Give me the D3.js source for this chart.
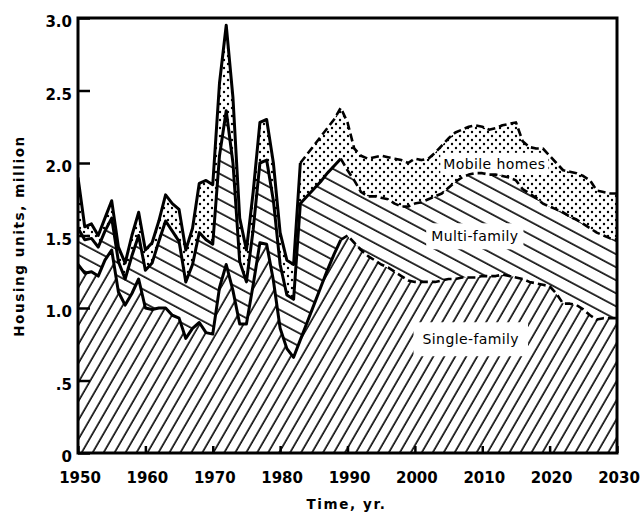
<!DOCTYPE html>
<html>
<head>
<meta charset="utf-8">
<script src="https://cdn.jsdelivr.net/npm/d3@7"></script>
<style>
    body { margin: 0; background: #fff; }
    text { font-family: "DejaVu Sans", "Liberation Sans", sans-serif; fill: #000; }
    .tick-label { font-size: 15px; font-weight: bold; }
    .axis-title { font-size: 13.5px; font-weight: bold; letter-spacing: 1.6px; }
    .area-label { font-size: 14px; letter-spacing: 0.4px; }
</style>
</head>
<body>
<svg id="chart" width="644" height="513"></svg>
<script>
// years on the x axis, one value per year
const years = d3.range(1950, 2031);

// housing units, million (each series is its own layer of the stack)
const singleFamily = [
    1.30, 1.24, 1.25, 1.22, 1.33, 1.40, 1.11, 1.02, 1.10, 1.20,
    1.00, 0.99, 1.00, 1.00, 0.95, 0.93, 0.79, 0.86, 0.90, 0.83,
    0.82, 1.14, 1.30, 1.12, 0.89, 0.89, 1.16, 1.45, 1.44, 1.19,
    0.86, 0.72, 0.66, 0.78, 0.90, 1.02, 1.14, 1.26, 1.37, 1.47,
    1.50, 1.45, 1.40, 1.36, 1.33, 1.30, 1.28, 1.25, 1.22, 1.19,
    1.18, 1.18, 1.18, 1.18, 1.19, 1.20, 1.20, 1.21, 1.21, 1.21,
    1.22, 1.22, 1.22, 1.23, 1.22, 1.21, 1.20, 1.18, 1.17, 1.16,
    1.15, 1.10, 1.03, 1.03, 1.02, 0.99, 0.95, 0.92, 0.93, 0.93,
    0.93
];
const multiFamily = [
    0.25, 0.23, 0.23, 0.20, 0.20, 0.22, 0.21, 0.18, 0.26, 0.30,
    0.26, 0.32, 0.46, 0.60, 0.58, 0.53, 0.39, 0.44, 0.62, 0.64,
    0.62, 0.91, 1.06, 0.88, 0.43, 0.29, 0.38, 0.55, 0.58, 0.55,
    0.44, 0.37, 0.40, 0.94, 0.87, 0.80, 0.73, 0.67, 0.61, 0.56,
    0.45, 0.43, 0.40, 0.41, 0.44, 0.46, 0.47, 0.47, 0.48, 0.51,
    0.54, 0.55, 0.57, 0.59, 0.60, 0.63, 0.67, 0.69, 0.71, 0.72,
    0.71, 0.70, 0.70, 0.68, 0.68, 0.67, 0.62, 0.61, 0.59, 0.56,
    0.55, 0.58, 0.63, 0.60, 0.59, 0.59, 0.60, 0.60, 0.57, 0.55,
    0.54
];
const mobileHomes = [
    0.35, 0.09, 0.10, 0.08, 0.09, 0.12, 0.10, 0.11, 0.14, 0.16,
    0.14, 0.14, 0.14, 0.18, 0.19, 0.22, 0.22, 0.25, 0.34, 0.41,
    0.41, 0.50, 0.59, 0.45, 0.30, 0.22, 0.26, 0.28, 0.28, 0.26,
    0.22, 0.24, 0.24, 0.28, 0.29, 0.30, 0.31, 0.31, 0.32, 0.35,
    0.33, 0.22, 0.25, 0.26, 0.27, 0.29, 0.29, 0.31, 0.32, 0.30,
    0.31, 0.29, 0.28, 0.30, 0.33, 0.34, 0.34, 0.33, 0.33, 0.33,
    0.32, 0.31, 0.32, 0.35, 0.37, 0.40, 0.33, 0.32, 0.34, 0.38,
    0.35, 0.32, 0.29, 0.31, 0.32, 0.33, 0.33, 0.29, 0.30, 0.31,
    0.32
];

const seriesKeys = ["single", "multi", "mobile"];
const seriesLabels = ["Single-family", "Multi-family", "Mobile homes"];
// first year drawn with a dashed edge (projection) for each layer's top
const dashFrom = [1989, 1989, 1983];

const xTicks = [1950, 1960, 1970, 1980, 1990, 2000, 2010, 2020, 2030];
const yTicks = [0, 0.5, 1.0, 1.5, 2.0, 2.5, 3.0];
const yTickLabels = ["0", ".5", "1.0", "1.5", "2.0", "2.5", "3.0"];

let margin = { left: 78, right: 27, top: 18, bottom: 60 };
let w = 644 - margin.left - margin.right;
let h = 513 - margin.top - margin.bottom;

// table the stack needs
let table = years.map((y, i) => ({
    year: y, single: singleFamily[i], multi: multiFamily[i], mobile: mobileHomes[i]
}));

function createSvg() {
    let svg = d3.select("#chart")
        .append("g")
        .attr("transform", "translate(" + margin.left + ", " + margin.top + ")");
    return svg;
}

// hatch and dot fills, like the printed figure
function makePatterns(svg) {
    let defs = svg.append("defs");

    let ps = defs.append("pattern")
        .attr("id", "fill-single")
        .attr("patternUnits", "userSpaceOnUse")
        .attr("width", 9.5).attr("height", 20)
        .attr("patternTransform", "rotate(30)");
    ps.append("rect").attr("width", 9.5).attr("height", 20).attr("fill", "#fff");
    ps.append("line").attr("x1", 2).attr("x2", 2).attr("y1", 0).attr("y2", 20)
        .attr("stroke", "#000").attr("stroke-width", 1.6);

    let pm = defs.append("pattern")
        .attr("id", "fill-multi")
        .attr("patternUnits", "userSpaceOnUse")
        .attr("width", 20).attr("height", 11.5)
        .attr("patternTransform", "rotate(28)");
    pm.append("rect").attr("width", 20).attr("height", 11.5).attr("fill", "#fff");
    pm.append("line").attr("x1", 0).attr("x2", 20).attr("y1", 2).attr("y2", 2)
        .attr("stroke", "#000").attr("stroke-width", 1.6);

    let pd = defs.append("pattern")
        .attr("id", "fill-mobile")
        .attr("patternUnits", "userSpaceOnUse")
        .attr("width", 8).attr("height", 8);
    pd.append("rect").attr("width", 8).attr("height", 8).attr("fill", "#fff");
    pd.append("circle").attr("cx", 2).attr("cy", 2).attr("r", 1.2).attr("fill", "#000");
    pd.append("circle").attr("cx", 6).attr("cy", 6).attr("r", 1.2).attr("fill", "#000");

    defs.append("clipPath").attr("id", "plot-clip")
        .append("rect").attr("width", w).attr("height", h);
}

function drawAreas(svg, stacked, xScale, yScale) {
    let area = d3.area()
        .x((d) => xScale(d.data.year))
        .y0((d) => yScale(d[0]))
        .y1((d) => yScale(d[1]));

    svg.append("g")
        .attr("clip-path", "url(#plot-clip)")
        .selectAll("path")
        .data(stacked)
        .enter()
        .append("path")
        .attr("d", area)
        .attr("fill", (d) => "url(#fill-" + d.key + ")");
}

// white boxes behind the labels, then the labels
function drawLabels(svg, xScale, yScale) {
    let spots = [
        { year: 2008.3, value: 0.75, padX: 9, padY: 9 },
        { year: 2008.9, value: 1.46, padX: 5, padY: 5 },
        { year: 2011.8, value: 1.96, padX: 3, padY: 3 }
    ];
    let g = svg.append("g");
    seriesLabels.forEach((lab, i) => {
        let t = g.append("text")
            .attr("class", "area-label")
            .attr("x", xScale(spots[i].year))
            .attr("y", yScale(spots[i].value))
            .attr("text-anchor", "middle")
            .text(lab);
        let b = t.node().getBBox();
        g.insert("rect", "text")
            .attr("x", b.x - spots[i].padX)
            .attr("y", b.y - spots[i].padY)
            .attr("width", b.width + 2 * spots[i].padX)
            .attr("height", b.height + 2 * spots[i].padY)
            .attr("fill", "#fff");
    });
}

// thick edge lines: solid for history, dashed for the projection
function drawEdges(svg, stacked, xScale, yScale) {
    let line = d3.line()
        .x((d) => xScale(d.data.year))
        .y((d) => yScale(d[1]))
        .curve(d3.curveLinear);

    let g = svg.append("g")
        .attr("clip-path", "url(#plot-clip)")
        .attr("fill", "none")
        .attr("stroke", "#000")
        .attr("stroke-linejoin", "round");

    stacked.forEach((s, i) => {
        let solid = s.filter((d) => d.data.year <= dashFrom[i]);
        let dashed = s.filter((d) => d.data.year >= dashFrom[i]);
        g.append("path").attr("d", line(solid)).attr("stroke-width", 3);
        g.append("path").attr("d", line(dashed))
            .attr("stroke-width", 2.6)
            .attr("stroke-dasharray", "8,4");
    });
}

function drawAxes(svg, xScale, yScale) {
    // frame
    svg.append("rect")
        .attr("width", w).attr("height", h)
        .attr("fill", "none").attr("stroke", "#000").attr("stroke-width", 3);

    let yAxis = d3.axisRight(yScale)
        .tickValues(yTicks)
        .tickSize(12)
        .tickFormat("");
    let ya = svg.append("g").attr("class", "y axis").call(yAxis);
    ya.select(".domain").remove();
    ya.selectAll("line").attr("stroke-width", 2.5);

    let xAxis = d3.axisTop(xScale)
        .tickValues(xTicks)
        .tickSize(7)
        .tickFormat("");
    let xa = svg.append("g").attr("class", "x axis")
        .attr("transform", "translate(0, " + h + ")")
        .call(xAxis);
    xa.select(".domain").remove();
    xa.selectAll("line").attr("stroke-width", 2.5);

    // tick labels
    svg.append("g").selectAll("text")
        .data(yTicks)
        .enter()
        .append("text")
        .attr("class", "tick-label")
        .attr("x", -6)
        .attr("y", (d) => yScale(d) + 9)
        .attr("text-anchor", "end")
        .text((d, i) => yTickLabels[i]);

    svg.append("g").selectAll("text")
        .data(xTicks)
        .enter()
        .append("text")
        .attr("class", "tick-label")
        .attr("x", (d) => xScale(d) + 2)
        .attr("y", h + 30)
        .attr("text-anchor", "middle")
        .text((d) => d);
}

function drawTitles(svg) {
    svg.append("text")
        .attr("class", "axis title axis-title")
        .attr("x", w / 2 - 1)
        .attr("y", h + 56)
        .attr("text-anchor", "middle")
        .text("Time, yr.");

    svg.append("text")
        .attr("class", "axis title axis-title")
        .attr("text-anchor", "middle")
        .attr("transform", "translate(-54, 218) rotate(-90)")
        .text("Housing units, million");
}

function drawChart() {
    let svg = createSvg();
    makePatterns(svg);

    let xScale = d3.scaleLinear().domain([1950, 2030]).range([0, w]);
    let yScale = d3.scaleLinear().domain([0, 3]).range([h, 0]);

    let stacked = d3.stack().keys(seriesKeys)(table);

    drawAreas(svg, stacked, xScale, yScale);
    drawLabels(svg, xScale, yScale);
    drawEdges(svg, stacked, xScale, yScale);
    drawAxes(svg, xScale, yScale);
    drawTitles(svg);
}

drawChart();
</script>
</body>
</html>
